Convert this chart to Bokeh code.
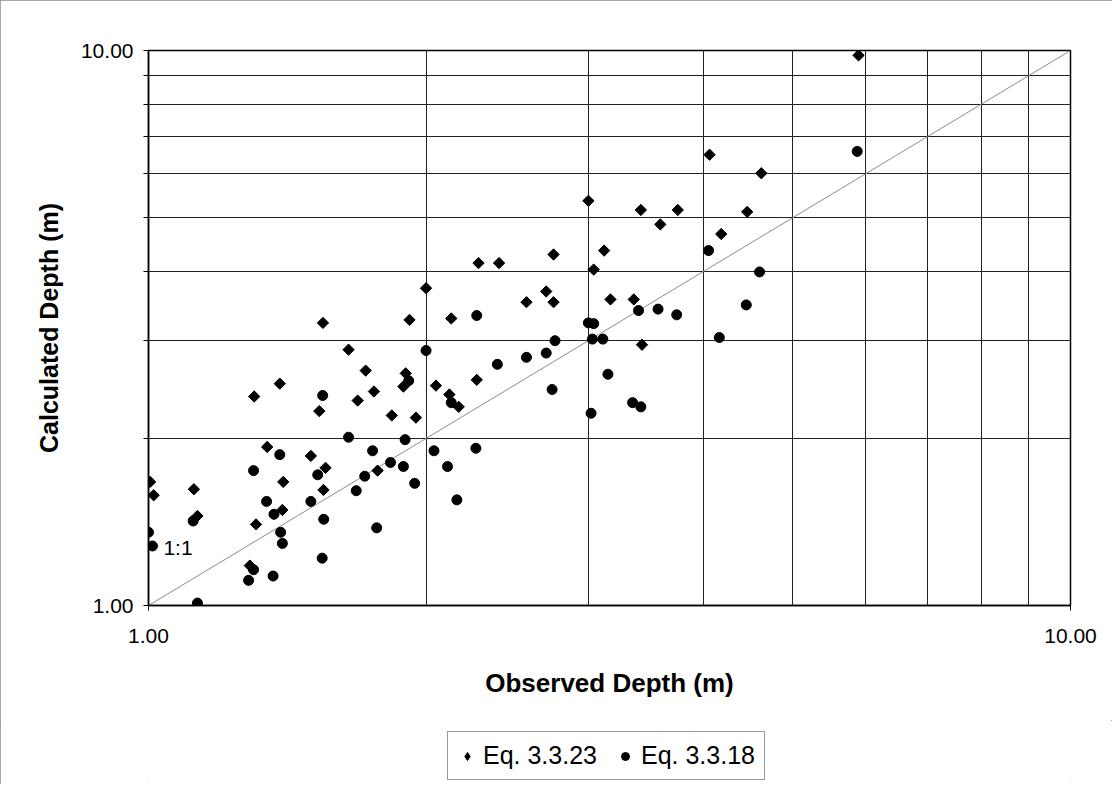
import numpy as np
from bokeh.plotting import figure
from bokeh.layouts import column
from bokeh.models import (FixedTicker, PrintfTickFormatter, Legend, LegendItem, Label, Title)
from bokeh.embed import file_html
from bokeh.resources import INLINE

# ---- data (observed depth, calculated depth), metres ----
eq23_x = [1.546, 1.919, 2.00, 2.13, 2.28, 2.40, 2.57, 2.70, 2.75, 2.75, 3.00, 3.12, 3.04, 3.17, 3.36,
          5.89, 4.06, 4.62, 3.42, 3.75, 3.59, 4.46, 4.18, 3.43,
          1.648, 1.72, 1.388, 1.302, 1.532, 1.686, 1.756, 1.901, 1.89, 1.836, 1.95, 2.05, 2.12, 2.17,
          2.27, 1.345, 1.50, 1.556, 1.40, 1.548, 1.004, 1.013, 1.12, 1.13, 1.397, 1.308, 1.288, 1.772]
eq23_y = [3.23, 3.27, 3.73, 3.29, 4.14, 4.14, 3.52, 3.68, 3.52, 4.29, 5.36, 4.36, 4.03, 3.56, 3.56,
          9.80, 6.49, 6.01, 5.16, 5.16, 4.86, 5.12, 4.67, 2.95,
          2.89, 2.65, 2.51, 2.38, 2.24, 2.34, 2.43, 2.62, 2.48, 2.20, 2.18, 2.49, 2.40, 2.28,
          2.55, 1.93, 1.86, 1.77, 1.67, 1.615, 1.67, 1.58, 1.62, 1.45, 1.486, 1.40, 1.18, 1.75]

eq18_x = [2.27, 3.00, 3.04, 5.87, 4.05, 4.60, 3.40, 3.57, 3.74, 4.45, 3.03, 3.11, 4.16, 3.15, 3.35,
          3.42, 3.02, 2.00, 2.39, 2.57, 2.70, 2.76, 2.74, 1.545, 1.648, 1.898, 2.13, 1.30, 1.388,
          1.75, 1.83, 1.89, 1.716, 1.944, 2.04, 2.11, 2.265, 2.16, 1.68, 1.50, 1.343, 1.549, 1.768,
          1.391, 1.397, 1.543, 1.365, 1.00, 1.01, 1.13, 1.526, 1.118, 1.368, 1.30, 1.284, 1.915]
eq18_y = [3.33, 3.23, 3.22, 6.58, 4.36, 3.99, 3.40, 3.42, 3.34, 3.48, 3.02, 3.02, 3.04, 2.61, 2.32,
          2.28, 2.22, 2.88, 2.72, 2.80, 2.85, 3.00, 2.45, 2.39, 2.01, 1.99, 2.32, 1.75, 1.87,
          1.90, 1.81, 1.78, 1.71, 1.66, 1.90, 1.78, 1.92, 1.55, 1.61, 1.54, 1.54, 1.43, 1.38,
          1.355, 1.294, 1.217, 1.13, 1.355, 1.28, 1.01, 1.72, 1.42, 1.46, 1.16, 1.11, 2.54]

one_to_one = [1.0, 10.0]
major_ticks = [1.0, 10.0]
minor_ticks = [2, 3, 4, 5, 6, 7, 8, 9]
series_names = ["Eq. 3.3.23", "Eq. 3.3.18"]
x_title = "Observed Depth (m)"
y_title = "Calculated Depth (m)"
line_label = "1:1"
line_label_pos = (1.038, 1.272)

FONT = "Liberation Sans"

p = figure(frame_width=922, frame_height=555, x_axis_type="log", y_axis_type="log",
           x_range=(1, 10), y_range=(1, 10),
           output_backend="svg", toolbar_location=None,
           min_border_left=148, min_border_right=42, min_border_top=50, min_border_bottom=115,
           background_fill_color="white", border_fill_color="white")

p.outline_line_color = "black"
p.outline_line_width = 1.5

for ax in (p.xaxis[0], p.yaxis[0]):
    ax.ticker = FixedTicker(ticks=major_ticks, minor_ticks=minor_ticks)
    ax.formatter = PrintfTickFormatter(format="%.2f")
    ax.axis_line_color = "black"
    ax.axis_line_width = 1.5
    ax.major_tick_line_color = "black"
    ax.minor_tick_line_color = "black"
    ax.major_tick_out = 5
    ax.major_tick_in = 0
    ax.minor_tick_in = 0
    ax.major_label_text_font = FONT
    ax.major_label_text_font_size = "21px"
    ax.major_label_text_color = "black"

p.xaxis.minor_tick_out = 0
p.yaxis.minor_tick_out = 5
p.xaxis.major_label_standoff = 18
p.yaxis.major_label_standoff = 10

p.xaxis.axis_label = x_title
p.xaxis.axis_label_text_font = FONT
p.xaxis.axis_label_text_font_size = "26px"
p.xaxis.axis_label_text_font_style = "bold"
p.xaxis.axis_label_text_color = "black"
p.xaxis.axis_label_standoff = 22

for g in (p.xgrid[0], p.ygrid[0]):
    g.grid_line_color = None
    g.minor_grid_line_color = "#222222"
    g.minor_grid_line_width = 1

p.line(one_to_one, one_to_one, line_color="#8c8c8c", line_width=1)

r23 = p.scatter(eq23_x, eq23_y, marker="square", angle=np.pi / 4, size=8,
                fill_color="black", line_color="black")
r18 = p.scatter(eq18_x, eq18_y, marker="circle", size=10,
                fill_color="black", line_color="black")

p.add_layout(Label(x=line_label_pos[0], y=line_label_pos[1], text=line_label,
                   text_font=FONT, text_font_size="21px", text_color="black",
                   text_align="left", text_baseline="middle"))

p.add_layout(Title(text=y_title, align="center", offset=-20, standoff=30,
                   text_font=FONT, text_font_size="25px", text_font_style="bold",
                   text_color="black"), "left")

# ---- legend strip below the chart (its own glyphs lie outside its visible 0..1 range) ----
lf = figure(width=1112, height=64, x_range=(0, 1), y_range=(0, 1),
            x_axis_location=None, y_axis_location=None,
            output_backend="svg", toolbar_location=None,
            min_border=0, background_fill_color="white", border_fill_color="white")
lf.grid.visible = False
lf.outline_line_color = None
k23 = lf.scatter(eq23_x, eq23_y, marker="diamond", fill_color="black", line_color="black")
k18 = lf.scatter(eq18_x, eq18_y, marker="circle", fill_color="black", line_color="black")

legend = Legend(items=[LegendItem(label=series_names[0], renderers=[k23]),
                       LegendItem(label=series_names[1], renderers=[k18])],
                orientation="horizontal", location=(299, 4),
                label_text_font=FONT, label_text_font_size="25px", label_text_color="black",
                border_line_color="#333333", border_line_width=1,
                background_fill_color="white", background_fill_alpha=1,
                glyph_width=20, glyph_height=22, label_standoff=6, spacing=18,
                padding=9, margin=0)
lf.add_layout(legend)

layout = column(p, lf, spacing=0)
layout.styles = {"outline": "1px solid #8a8a8a", "outline-offset": "-1px"}

open("out.html", "w").write(file_html(layout, INLINE))
